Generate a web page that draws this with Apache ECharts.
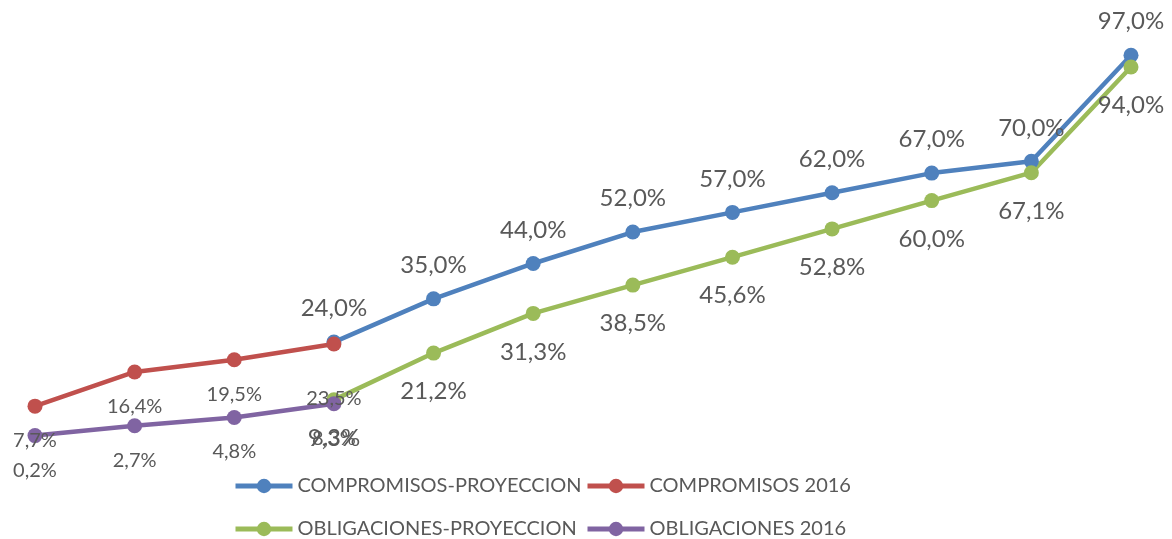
<!DOCTYPE html>
<html><head><meta charset="utf-8">
<script src="https://cdn.jsdelivr.net/npm/echarts@6/dist/echarts.min.js"></script>
<style>html,body{margin:0;padding:0;background:#fff}#c{width:1172px;height:539px}</style>
</head><body><div id="c"></div>
<script>
var categories = ['ENE','FEB','MAR','ABR','MAY','JUN','JUL','AGO','SEP','OCT','NOV','DIC'];
var compromisosProyeccion = [null, null, null, 24.0, 35.0, 44.0, 52.0, 57.0, 62.0, 67.0, 70.0, 97.0];
var compromisos2016 = [7.7, 16.4, 19.5, 23.5, null, null, null, null, null, null, null, null];
var obligacionesProyeccion = [null, null, null, 9.3, 21.2, 31.3, 38.5, 45.6, 52.8, 60.0, 67.1, 94.0];
var obligaciones2016 = [0.2, 2.7, 4.8, 8.3, null, null, null, null, null, null, null, null];
var seriesNames = ['COMPROMISOS-PROYECCION','COMPROMISOS 2016','OBLIGACIONES-PROYECCION','OBLIGACIONES 2016'];

var FONT = 'Lato';
var TXT = '#595959';
function fmt(p){ return p.value.toFixed(1).replace('.', ',') + '%'; }
function mk(name, data, color, pos, size, dist, special){
  return {
    name: name, type: 'line', data: data.map(function(v,i){
      if (special && special[i] !== undefined && v !== null) return {value: v, label: {distance: special[i]}};
      return v;
    }),
    symbol: 'circle', symbolSize: 15, connectNulls: false,
    lineStyle: {color: color, width: 4.5}, itemStyle: {color: color},
    label: {show: true, position: pos, distance: dist, formatter: fmt, color: TXT, fontFamily: FONT, fontSize: size},
    emphasis: {disabled: true}, animation: false
  };
}
function lg(name, left, top){
  return {data:[name], left:left, top:top, padding:5, itemWidth:57, itemHeight:18,
    lineStyle:{width:5}, textStyle:{color:TXT, fontFamily:FONT, fontSize:20}};
}
var chart = echarts.init(document.getElementById('c'));
chart.setOption({
  animation: false,
  grid: {left: 35, right: 41, top: 43.4, bottom: 102.6},
  xAxis: {type: 'category', data: categories, boundaryGap: false, show: false},
  yAxis: {type: 'value', min: 0, max: 100, show: false},
  legend: [
    lg(seriesNames[0], 228, 471),
    lg(seriesNames[1], 580, 471),
    lg(seriesNames[2], 228, 514),
    lg(seriesNames[3], 580, 514)
  ],
  series: [
    mk(seriesNames[0], compromisosProyeccion, '#4F81BD', 'top', 24, 14),
    mk(seriesNames[1], compromisos2016, '#C0504D', 'bottom', 20, 17, {3: 37}),
    mk(seriesNames[2], obligacionesProyeccion, '#9BBB59', 'bottom', 24, 19),
    mk(seriesNames[3], obligaciones2016, '#8064A2', 'bottom', 20, 17)
  ]
});
</script></body></html>
